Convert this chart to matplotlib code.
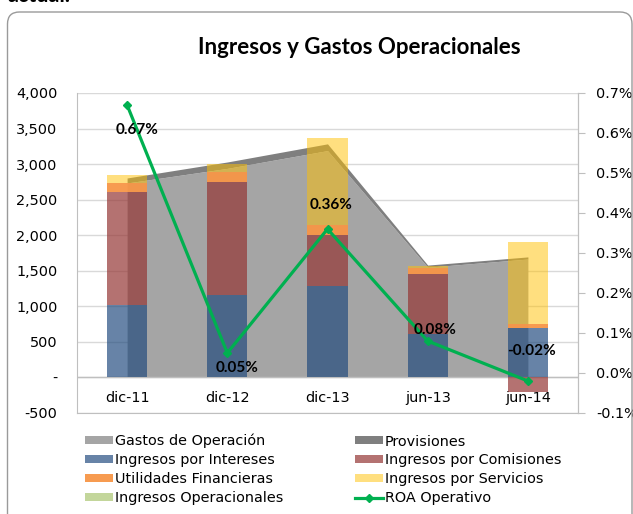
import numpy as np
import matplotlib
matplotlib.use("Agg")
import matplotlib.pyplot as plt
from matplotlib.patches import Patch, FancyBboxPatch

# data
categories = ["dic-11", "dic-12", "dic-13", "jun-13", "jun-14"]
gastos = [2735, 2940, 3190, 1550, 1665]
provisiones = [70, 90, 95, 30, 30]
intereses = [1015, 1157, 1290, 610, 695]
comisiones = [1590, 1590, 710, 850, -200]
utilidades = [125, 140, 140, 80, 60]
servicios = [110, 120, 1225, 30, 1155]
roa = [0.67, 0.05, 0.36, 0.08, -0.02]
# label offsets in pixels (dx, dy), y up
roa_label_off = [(10, -25), (10, -15), (4, 24), (7, 11), (4, 30)]

W, H = 633, 514
fig = plt.figure(figsize=(W / 100, H / 100), dpi=100)
ax = fig.add_axes([77 / W, 1 - 413 / H, (578 - 77) / W, (413 - 93) / H])

x = np.arange(len(categories))
gastos = np.array(gastos, float)
provisiones = np.array(provisiones, float)

# area series
ax.fill_between(x, 0, gastos, color="#A5A5A5", lw=0, zorder=2)
ax.fill_between(x, gastos, gastos + provisiones, color="#7F7F7F", lw=0, zorder=2)

# stacked bars (positives stack up, negatives go down)
pos = np.zeros(len(x))
neg = np.zeros(len(x))
bars = []
for vals, col, a in [(intereses, "#1F497D", 0.68),
                     (comisiones, "#953735", 0.7),
                     (utilidades, "#F79646", 0.95),
                     (servicios, "#FFC000", 0.5)]:
    vals = np.array(vals, float)
    bottom = np.where(vals >= 0, pos, neg)
    b = ax.bar(x, vals, 0.4, bottom=bottom, color=col, alpha=a, lw=0, zorder=3)
    bars.append(b)
    pos = pos + np.where(vals >= 0, vals, 0)
    neg = neg + np.where(vals < 0, vals, 0)

ax.axhline(0, color="#BFBFBF", lw=1, zorder=2.5)

ax.set_xlim(-0.5, len(x) - 0.5)
ax.set_ylim(-500, 4000)
ax.set_yticks(np.arange(-500, 4001, 500))
ax.set_yticklabels(["-" if v == 0 else f"{v:,}" for v in range(-500, 4001, 500)])
ax.grid(axis="y", color="#D9D9D9", lw=1, zorder=0)
ax.set_axisbelow(True)
ax.set_xticks(x, categories)
ax.tick_params(axis="y", length=0, pad=14, labelsize=10.4, colors="black")
ax.tick_params(axis="x", length=0, pad=-16, labelsize=10.4)
for s in ax.spines.values():
    s.set_color("#BFBFBF")
ax.spines["top"].set_visible(False)

# ROA line on secondary axis
ax2 = ax.twinx()
line, = ax2.plot(x, roa, color="#00B050", lw=2.3, marker="D", ms=4.5, zorder=5)
ax2.set_ylim(-0.1, 0.7)
ticks2 = np.round(np.arange(-0.1, 0.71, 0.1), 1)
ax2.set_yticks(ticks2)
ax2.set_yticklabels([f"{t:.1f}%" for t in ticks2])
ax2.tick_params(axis="y", length=5, pad=8, labelsize=10.4, color="#BFBFBF")
for s in ax2.spines.values():
    s.set_visible(False)
ax2.spines["right"].set_visible(True)
ax2.spines["right"].set_color("#BFBFBF")

for xi, v, (dx, dy) in zip(x, roa, roa_label_off):
    ax2.annotate(f"{v:.2f}%", (xi, v), xytext=(dx * 0.72, dy * 0.72),
                 textcoords="offset points", ha="center", va="center",
                 fontsize=11, fontweight="bold", family="Lato", zorder=6)

# title and frame
fig.text(359 / W, 1 - 47 / H, "Ingresos y Gastos Operacionales", ha="center", va="center",
         fontsize=16, fontweight="bold", family="Lato")
fig.text(8 / W, 1 - 2 / H, "actual.", ha="left", va="baseline",
         fontsize=15.5, fontweight="bold", family="Lato")
frame = FancyBboxPatch((7.5 / 100, -0.3), 624.5 / 100, (514 - 12) / 100 + 0.3,
                       boxstyle="round,pad=0,rounding_size=0.12",
                       transform=fig.dpi_scale_trans, fc="none", ec="#9A9A9A", lw=1)
fig.patches.append(frame)

# legend
ingop = Patch(facecolor="#9BBB59", alpha=0.6, lw=0)
handles = [ax.collections[0], bars[0], bars[2], ingop,
           ax.collections[1], bars[1], bars[3], line]
labels = ["Gastos de Operación", "Ingresos por Intereses", "Utilidades Financieras",
          "Ingresos Operacionales", "Provisiones", "Ingresos por Comisiones",
          "Ingresos por Servicios", "ROA Operativo"]
fig.legend(handles, labels, ncol=2, loc="upper left",
           bbox_to_anchor=(85 / W, 1 - 434 / H), frameon=False, fontsize=10.4,
           borderpad=0, borderaxespad=0, handlelength=1.95, handleheight=0.5,
           handletextpad=0.1, labelspacing=0.34, columnspacing=5.0)

fig.savefig("out.png", dpi=100)
